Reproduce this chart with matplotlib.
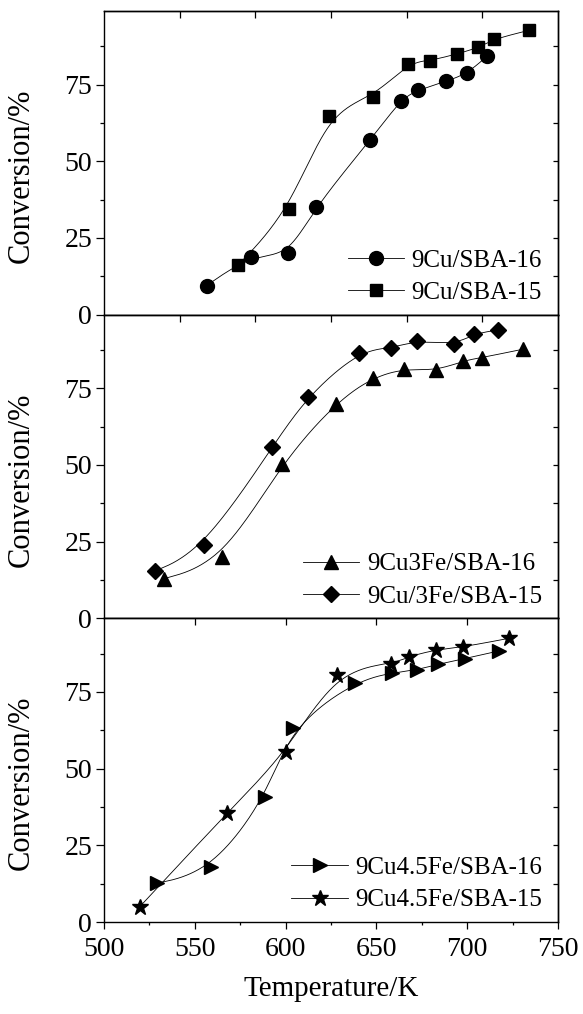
import numpy as np
import matplotlib
matplotlib.use("Agg")
import matplotlib.pyplot as plt
from matplotlib.ticker import MultipleLocator

plt.rcParams["font.family"] = "Liberation Serif"
plt.rcParams["axes.linewidth"] = 1.0

# 9Cu on SBA-16 / SBA-15
T_CU_16 = [556.5, 580.9, 601.1, 616.7, 646.5, 663.4, 673.1, 688.4, 699.8, 710.8]
X_CU_16 = [9.5, 18.9, 20.0, 35.2, 56.8, 69.8, 73.1, 76.1, 78.7, 84.2]
T_CU_15 = [573.9, 601.7, 623.9, 648.0, 667.6, 679.6, 694.3, 706.2, 715.0, 734.2]
X_CU_15 = [16.2, 34.6, 64.7, 71.1, 81.7, 82.8, 85.0, 87.1, 89.8, 92.7]

# 9Cu3Fe
T_CUFE3_16 = [532.9, 565.1, 597.8, 627.8, 648.0, 665.3, 682.7, 697.9, 708.1, 730.5]
X_CUFE3_16 = [12.9, 20.0, 50.2, 70.0, 78.2, 81.2, 80.9, 83.9, 85.0, 87.7]
T_CUFE3_15 = [528.0, 555.0, 592.6, 612.6, 640.4, 657.9, 672.2, 693.0, 703.5, 716.9]
X_CUFE3_15 = [15.4, 23.8, 55.8, 72.3, 86.6, 88.0, 90.4, 89.5, 92.6, 94.0]

# 9Cu4.5Fe
T_CUFE45_16 = [529.0, 558.8, 588.6, 603.9, 638.2, 658.8, 672.6, 683.8, 698.9, 717.6]
X_CUFE45_16 = [12.6, 17.8, 40.8, 63.1, 78.0, 81.1, 82.3, 84.0, 85.9, 88.4]
T_CUFE45_15 = [519.7, 568.0, 600.0, 628.1, 657.9, 668.0, 682.7, 697.9, 723.1]
X_CUFE45_15 = [5.0, 35.7, 55.5, 80.5, 84.1, 86.5, 88.7, 89.7, 92.5]

LABELS = [
    ("9Cu/SBA-16", "9Cu/SBA-15"),
    ("9Cu3Fe/SBA-16", "9Cu/3Fe/SBA-15"),
    ("9Cu4.5Fe/SBA-16", "9Cu4.5Fe/SBA-15"),
]


def smooth_curve(x, y, pull=0.45, n=40):
    # clamped cubic B-spline; interior control points are pulled a bit
    # towards the data so the curve runs close to (not exactly through) them
    p = np.column_stack([x, y]).astype(float)
    s = p.copy()
    s[1:-1] = (p[:-2] + 4 * p[1:-1] + p[2:]) / 6
    c = p + pull * (p - s)
    c = np.vstack([c[:1], c[:1], c, c[-1:], c[-1:]])
    t = np.linspace(0, 1, n)[:, None]
    b0 = (1 - t) ** 3
    b1 = 3 * t**3 - 6 * t**2 + 4
    b2 = -3 * t**3 + 3 * t**2 + 3 * t + 1
    b3 = t**3
    pts = [(b0 * c[i] + b1 * c[i + 1] + b2 * c[i + 2] + b3 * c[i + 3]) / 6
           for i in range(len(c) - 3)]
    pts = np.vstack(pts)
    return pts[:, 0], pts[:, 1]


def draw_series(ax, t, v, marker, ms, label):
    xs, ys = smooth_curve(t, v)
    ax.plot(xs, ys, color="black", lw=0.6)
    ax.plot(t, v, ls="none", marker=marker, ms=ms, color="black")
    ax.plot([], [], color="black", lw=0.6, marker=marker, ms=ms, label=label)


def style_panel(ax, bottom_panel):
    ax.set_xlim(500, 750)
    ax.set_ylim(0, 99)
    ax.yaxis.set_major_locator(MultipleLocator(25))
    ax.yaxis.set_minor_locator(MultipleLocator(12.5))
    ax.tick_params(axis="y", which="major", direction="out", length=5.5, width=0.9,
                   labelsize=20, pad=3)
    ax.tick_params(axis="y", which="minor", direction="out", length=3, width=0.9)

    right = ax.secondary_yaxis("right")
    right.set_yticks(np.arange(12.5, 99, 12.5))
    right.tick_params(direction="in", length=3.6, width=0.9, labelright=False)

    top = ax.secondary_xaxis("top")
    if bottom_panel:
        top.set_xticks([550, 600, 650, 700])
        ax.xaxis.set_major_locator(MultipleLocator(50))
        ax.xaxis.set_minor_locator(MultipleLocator(25))
        ax.tick_params(axis="x", which="major", direction="out", length=5, width=0.9,
                       labelsize=20, pad=6)
        ax.tick_params(axis="x", which="minor", direction="out", length=2.5, width=0.9)
        ax.set_xlabel("Temperature/K", fontsize=21, labelpad=10)
    else:
        top.set_xticks(np.linspace(500, 750, 7)[1:-1])
        ax.tick_params(axis="x", which="both", bottom=False, labelbottom=False)
    top.tick_params(direction="in", length=4.8, width=0.9, labeltop=False)

    ax.set_ylabel("Conversion/%", fontsize=22)
    ax.yaxis.set_label_coords(-0.150, 0.457)
    ax.legend(loc="lower right", bbox_to_anchor=(0.965, 0.035), frameon=False,
              fontsize=18, handlelength=2.25, handletextpad=0.3, labelspacing=0.39,
              borderpad=0, borderaxespad=0, numpoints=1)


def main():
    fig = plt.figure(figsize=(5.83, 10.14), dpi=100)
    left, width = 0.1784, 0.7787
    height = 0.2995
    bottoms = [0.0907 + 2 * height, 0.0907 + height, 0.0907]
    axes = [fig.add_axes([left, b, width, height]) for b in bottoms]

    draw_series(axes[0], T_CU_16, X_CU_16, "o", 10, LABELS[0][0])
    draw_series(axes[0], T_CU_15, X_CU_15, "s", 9, LABELS[0][1])

    draw_series(axes[1], T_CUFE3_16, X_CUFE3_16, "^", 10.5, LABELS[1][0])
    draw_series(axes[1], T_CUFE3_15, X_CUFE3_15, "D", 8.5, LABELS[1][1])

    draw_series(axes[2], T_CUFE45_16, X_CUFE45_16, ">", 10.5, LABELS[2][0])
    draw_series(axes[2], T_CUFE45_15, X_CUFE45_15, "*", 12, LABELS[2][1])

    for i, ax in enumerate(axes):
        style_panel(ax, bottom_panel=(i == 2))

    fig.savefig("out.png", dpi=100)


if __name__ == "__main__":
    main()
